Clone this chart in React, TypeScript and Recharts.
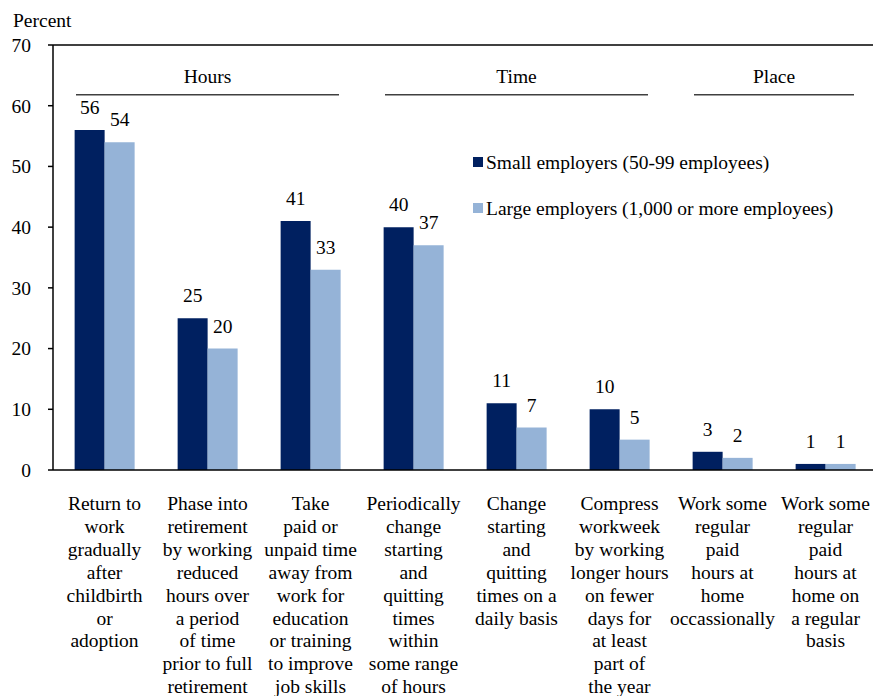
import React from 'react';
import { BarChart, Bar, XAxis, YAxis, ReferenceLine, ReferenceArea, LabelList, Legend } from 'recharts';

const categories = [
  'Return to\nwork\ngradually\nafter\nchildbirth\nor\nadoption',
  'Phase into\nretirement\nby working\nreduced\nhours over\na period\nof time\nprior to full\nretirement',
  'Take\npaid or\nunpaid time\naway from\nwork for\neducation\nor training\nto improve\njob skills',
  'Periodically\nchange\nstarting\nand\nquitting\ntimes\nwithin\nsome range\nof hours',
  'Change\nstarting\nand\nquitting\ntimes on a\ndaily basis',
  'Compress\nworkweek\nby working\nlonger hours\non fewer\ndays for\nat least\npart of\nthe year',
  'Work some\nregular\npaid\nhours at\nhome\noccassionally',
  'Work some\nregular\npaid\nhours at\nhome on\na regular\nbasis',
];
const smallEmployers = [56, 25, 41, 40, 11, 10, 3, 1];
const largeEmployers = [54, 20, 33, 37, 7, 5, 2, 1];
const yTicks = [0, 10, 20, 30, 40, 50, 60, 70];
const groupNames = ['Hours', 'Time', 'Place'];
const groupStarts = [0, 3, 6];
const groupEnds = [2, 5, 7];
const seriesNames = ['Small employers (50-99 employees)', 'Large employers (1,000 or more employees)'];
const seriesColors = ['#002060', '#95B3D7'];

const FONT = "'Liberation Serif', 'DejaVu Serif', 'Times New Roman', Times, serif";
const FS = 19.5;
const GROUP_INSET = 23;
const GROUP_LINE_Y = 61.8;
const GROUP_TOP_Y = 68;

const data = categories.map((name, i) => ({ name, small: smallEmployers[i], large: largeEmployers[i] }));

const CatTick = (props: any) => {
  const { x, y, payload } = props;
  const lines = String(payload.value).split('\n');
  return (
    <text x={x} y={y} textAnchor="middle" style={{ fontFamily: FONT, fontSize: FS }} fill="#000">
      {lines.map((l, i) => (
        <tspan key={i} x={x} dy={i === 0 ? 40 : 22.9}>{l}</tspan>
      ))}
    </text>
  );
};

const GroupShape = (label: string) => (props: any) => {
  const { x, y, width, height } = props;
  const bottom = y + height;
  return (
    <g>
      <line x1={x + GROUP_INSET} x2={x + width - GROUP_INSET} y1={bottom} y2={bottom} stroke="#404040" strokeWidth={1.5} />
      <text x={x + width / 2} y={bottom - 12} textAnchor="middle" style={{ fontFamily: FONT, fontSize: FS }} fill="#000">{label}</text>
    </g>
  );
};

const LegendContent = () => (
  <div style={{ fontFamily: FONT, fontSize: FS, color: '#000' }}>
    {seriesNames.map((n, i) => (
      <div key={n} style={{ display: 'flex', alignItems: 'center', height: 23, lineHeight: '23px', marginBottom: i === 0 ? 23 : 0, whiteSpace: 'nowrap' }}>
        <span style={{ display: 'inline-block', width: 10, height: 10, background: seriesColors[i], marginRight: 3 }} />
        <span>{n}</span>
      </div>
    ))}
  </div>
);

export default function App() {
  return (
    <div style={{ position: 'fixed', left: 0, top: 0, width: 873, height: 696, overflow: 'hidden', background: '#fff' }}>
      <style>{'html,body{margin:0;padding:0;overflow:hidden;}'}</style>
      <div style={{ position: 'absolute', left: 8, top: 8, width: 865, height: 688, overflow: 'hidden', fontFamily: FONT }}>
        <div style={{ position: 'absolute', left: 5, top: 3, fontFamily: FONT, fontSize: FS, lineHeight: '19px', color: '#000', zIndex: 2 }}>Percent</div>
        <BarChart
          width={869}
          height={688}
          data={data}
          margin={{ top: 37, right: 0, bottom: 0, left: 0 }}
          barCategoryGap="21%"
          barGap={0}
          style={{ fontFamily: FONT }}
        >
          <XAxis
            dataKey="name"
            type="category"
            height={226}
            interval={0}
            tickLine={false}
            tickSize={0}
            tickMargin={0}
            axisLine={{ stroke: '#000', strokeWidth: 1.5 }}
            tick={<CatTick />}
          />
          <YAxis
            width={45}
            domain={[0, 70]}
            ticks={yTicks}
            interval={0}
            allowDataOverflow
            tickSize={5}
            tickMargin={17}
            axisLine={{ stroke: '#000', strokeWidth: 1.5 }}
            tickLine={{ stroke: '#000', strokeWidth: 1.5 }}
            tick={{ fontSize: FS, fontFamily: FONT, fill: '#000' }}
          />
          <ReferenceLine y={70} stroke="#000" strokeWidth={1.5} />
          {groupNames.map((g, i) => (
            <ReferenceArea
              key={g}
              x1={categories[groupStarts[i]]}
              x2={categories[groupEnds[i]]}
              y1={GROUP_LINE_Y}
              y2={GROUP_TOP_Y}
              shape={GroupShape(g)}
            />
          ))}
          <Legend
            layout="vertical"
            verticalAlign="middle"
            align="center"
            wrapperStyle={{ left: 465, top: 142.5, width: 'auto' }}
            content={<LegendContent />}
          />
          <Bar dataKey="small" name={seriesNames[0]} fill={seriesColors[0]} isAnimationActive={false}>
            <LabelList dataKey="small" position="top" offset={16} fontSize={FS} fontFamily={FONT} fill="#000" />
          </Bar>
          <Bar dataKey="large" name={seriesNames[1]} fill={seriesColors[1]} isAnimationActive={false}>
            <LabelList dataKey="large" position="top" offset={16} fontSize={FS} fontFamily={FONT} fill="#000" />
          </Bar>
        </BarChart>
      </div>
    </div>
  );
}
